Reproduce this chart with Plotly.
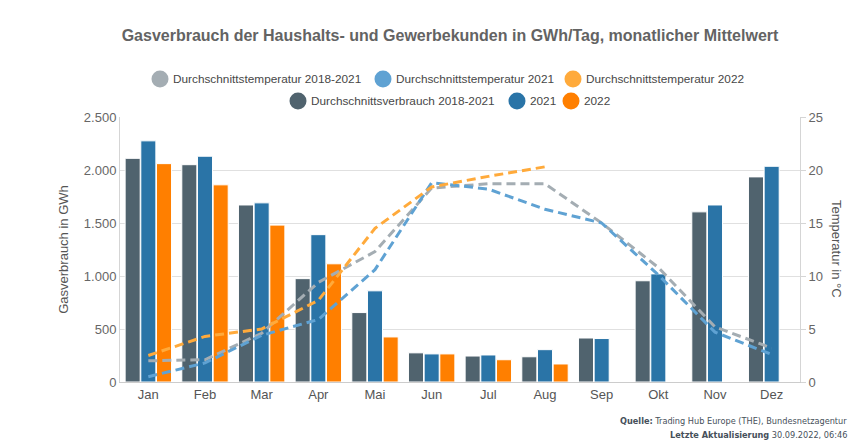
import plotly.graph_objects as go

months = ["Jan", "Feb", "Mar", "Apr", "Mai", "Jun", "Jul", "Aug", "Sep", "Okt", "Nov", "Dez"]

verbrauch_avg = [2110, 2050, 1670, 975, 655, 275, 245, 238, 415, 955, 1605, 1935]
verbrauch_2021 = [2275, 2130, 1690, 1390, 860, 265, 255, 305, 410, 1020, 1670, 2035]
verbrauch_2022 = [2060, 1860, 1480, 1115, 425, 265, 210, 170, None, None, None, None]

temp_avg = [2.0, 2.1, 4.6, 9.4, 12.3, 18.3, 18.7, 18.7, 15.0, 10.8, 5.2, 3.2]
temp_2021 = [0.5, 1.8, 4.4, 5.9, 10.6, 18.8, 18.2, 16.3, 15.0, 10.1, 4.7, 2.6]
temp_2022 = [2.5, 4.3, 5.0, 7.7, 14.5, 18.4, 19.4, 20.3, None, None, None, None]

left_ticks = [0, 500, 1000, 1500, 2000, 2500]
right_ticks = [0, 5, 10, 15, 20, 25]

c_bar_avg = "#50636e"
c_bar_21 = "#2a74a7"
c_bar_22 = "#ff7f00"
c_t_avg = "#a4adb3"
c_t_21 = "#5fa2d3"
c_t_22 = "#ffaa3b"

FONT = "Liberation Sans, Arial, sans-serif"
SRC_FONT = "DejaVu Sans Condensed, Liberation Sans Narrow, sans-serif"

# the page body adds an 8px margin, so the figure is drawn 8px smaller and offset
OFF = 8
W, H = 865 - OFF, 447 - OFF
L, R, T, B = 120 - OFF, 65, 117 - OFF, 65
PW, PH = W - L - R, H - T - B


def px(x):
    """window pixel x -> paper coordinate"""
    return (x - OFF - L) / PW


def py(y):
    """window pixel y -> paper coordinate"""
    return (H - (y - OFF) - B) / PH


fig = go.Figure()

for name, vals, col in [("Durchschnittsverbrauch 2018-2021", verbrauch_avg, c_bar_avg),
                        ("2021", verbrauch_2021, c_bar_21),
                        ("2022", verbrauch_2022, c_bar_22)]:
    fig.add_trace(go.Bar(x=months, y=vals, name=name,
                         marker=dict(color=col, line=dict(color="white", width=1)),
                         showlegend=False, yaxis="y"))

for name, vals, col in [("Durchschnittstemperatur 2018-2021", temp_avg, c_t_avg),
                        ("Durchschnittstemperatur 2021", temp_2021, c_t_21),
                        ("Durchschnittstemperatur 2022", temp_2022, c_t_22)]:
    fig.add_trace(go.Scatter(x=months, y=vals, name=name, mode="lines",
                             line=dict(color=col, width=3, dash="9px,5px"),
                             showlegend=False, yaxis="y2"))

# legend drawn as circle + text (positions in window pixels)
legend_items = [
    ("Durchschnittstemperatur 2018-2021", c_t_avg, 160, 79),
    ("Durchschnittstemperatur 2021", c_t_21, 383, 79),
    ("Durchschnittstemperatur 2022", c_t_22, 573, 79),
    ("Durchschnittsverbrauch 2018-2021", c_bar_avg, 298, 101),
    ("2021", c_bar_21, 517, 101),
    ("2022", c_bar_22, 571, 101),
]
shapes = []
annotations = []
for name, col, cx, cy in legend_items:
    shapes.append(dict(type="circle", xref="paper", yref="paper",
                       xsizemode="pixel", ysizemode="pixel",
                       xanchor=px(cx), yanchor=py(cy),
                       x0=-8.5, x1=8.5, y0=-8.5, y1=8.5,
                       fillcolor=col, line=dict(width=0), layer="above"))
    annotations.append(dict(text=name, x=px(cx + 11), y=py(cy), xref="paper", yref="paper",
                            showarrow=False, xanchor="left", yanchor="middle",
                            font=dict(family=FONT, size=11.8, color="#474747")))

annotations += [
    dict(text="Temperatur in °C", textangle=90, x=px(837), y=py(249), xref="paper", yref="paper",
         showarrow=False, font=dict(size=13, color="#555555"), xanchor="center", yanchor="middle"),
    dict(text="<b>Quelle:</b> Trading Hub Europe (THE), Bundesnetzagentur",
         x=px(849), y=py(421), xref="paper", yref="paper", showarrow=False,
         font=dict(family=SRC_FONT, size=9.1, color="#46505a"),
         xanchor="right", yanchor="middle"),
    dict(text="<b>Letzte Aktualisierung</b> 30.09.2022, 06:46",
         x=px(849), y=py(435), xref="paper", yref="paper", showarrow=False,
         font=dict(family=SRC_FONT, size=9.1, color="#46505a"),
         xanchor="right", yanchor="middle"),
]

fig.update_layout(
    width=W, height=H,
    margin=dict(l=L, r=R, t=T, b=B, autoexpand=False),
    paper_bgcolor="white", plot_bgcolor="white",
    font=dict(family=FONT, size=13, color="#666666"),
    separators=",.",
    showlegend=False,
    barmode="group", bargap=0.17, bargroupgap=0.04,
    title=dict(text="<b>Gasverbrauch der Haushalts- und Gewerbekunden in GWh/Tag, monatlicher Mittelwert</b>",
               x=(450 - OFF) / W, xanchor="center", y=1 - (35 - OFF) / H, yanchor="middle",
               font=dict(family=FONT, size=16, color="#636363")),
    xaxis=dict(showgrid=False, showline=True, linecolor="#cccccc", linewidth=1,
               ticks="", tickfont=dict(size=13, color="#555555")),
    yaxis=dict(range=[0, 2500], tickvals=left_ticks, tickformat=",d",
               showgrid=True, gridcolor="#e0e0e0", showline=True, linecolor="#d5d5d5",
               zeroline=False, ticks="", tickfont=dict(size=13, color="#666666"),
               title=dict(text="Gasverbrauch in GWh", font=dict(size=13, color="#555555"), standoff=12)),
    yaxis2=dict(range=[0, 25], tickvals=right_ticks, overlaying="y", side="right",
                showgrid=False, showline=True, linecolor="#d5d5d5", zeroline=False,
                ticks="outside", ticklen=5, tickcolor="#d5d5d5",
                tickfont=dict(size=13, color="#666666")),
    shapes=shapes,
    annotations=annotations,
)

fig.write_html("out.html")
